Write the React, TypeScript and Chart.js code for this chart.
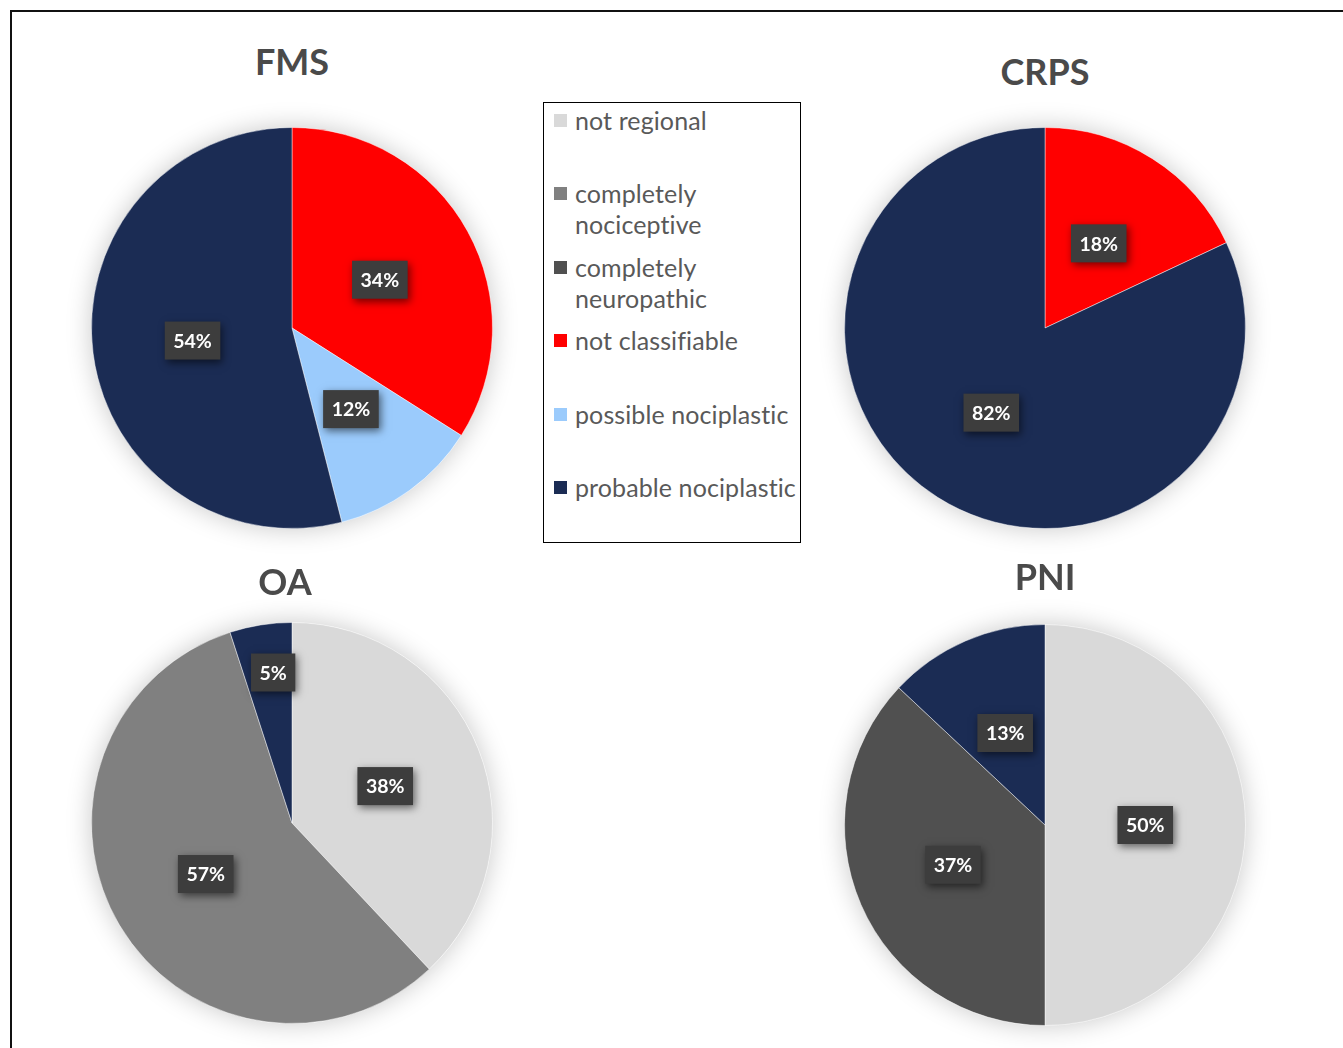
import React, { useEffect, useRef } from "react";
import { Chart, registerables } from "chart.js";

Chart.register(...registerables);

// ---------- data ----------
const categories = [
  "not regional",
  "completely nociceptive",
  "completely neuropathic",
  "not classifiable",
  "possible nociplastic",
  "probable nociplastic",
];
const legendLines = [
  ["not regional"],
  ["completely", "nociceptive"],
  ["completely", "neuropathic"],
  ["not classifiable"],
  ["possible nociplastic"],
  ["probable nociplastic"],
];
const sliceColors = ["#d9d9d9", "#808080", "#505050", "#ff0000", "#9bcbfc", "#1b2c54"];

const chartTitles = ["FMS", "CRPS", "OA", "PNI"];
const fmsValues = [0, 0, 0, 34, 12, 54];
const crpsValues = [0, 0, 0, 18, 0, 82];
const oaValues = [38, 57, 0, 0, 0, 5];
const pniValues = [50, 0, 37, 0, 0, 13];

// ---------- layout ----------
const pieLayouts = [
  { cx: 292, cy: 328, tx: 292, ty: 61 },
  { cx: 1045, cy: 328, tx: 1045, ty: 71 },
  { cx: 292, cy: 823, tx: 285, ty: 581 },
  { cx: 1045, cy: 825, tx: 1045, ty: 576 },
];
const CANVAS = 460;
const PAD = 29;

const glowPlugin = {
  id: "glow",
  beforeDatasetsDraw(chart: any) {
    const meta = chart.getDatasetMeta(0);
    const arc = meta.data.find((a: any) => a);
    if (!arc) return;
    const { x, y, outerRadius } = arc.getProps(["x", "y", "outerRadius"], true);
    const ctx = chart.ctx;
    ctx.save();
    ctx.shadowColor = "rgba(0,0,0,0.22)";
    ctx.shadowBlur = 26;
    ctx.fillStyle = "#ffffff";
    ctx.beginPath();
    ctx.arc(x, y, outerRadius, 0, Math.PI * 2);
    ctx.fill();
    ctx.restore();
  },
};

const labelPlugin = {
  id: "boxLabels",
  afterDatasetsDraw(chart: any) {
    const ctx = chart.ctx;
    const ds = chart.data.datasets[0];
    const meta = chart.getDatasetMeta(0);
    meta.data.forEach((arc: any, i: number) => {
      const v = ds.data[i];
      if (!v) return;
      const { x, y, startAngle, endAngle, outerRadius } = arc.getProps(
        ["x", "y", "startAngle", "endAngle", "outerRadius"],
        true
      );
      const text = v + "%";
      ctx.save();
      ctx.font = "bold 19.5px Lato";
      const tw = ctx.measureText(text).width;
      const bw = tw + 17;
      const bh = 38;
      const mid = (startAngle + endAngle) / 2;
      let rr = outerRadius / 2;
      let shift = 0;
      if ((endAngle - startAngle) * rr < bw) {
        rr = outerRadius * 0.76;
        shift = 5;
      }
      const px = x + Math.cos(mid) * rr + shift;
      const py = y + Math.sin(mid) * rr;
      ctx.shadowColor = "rgba(0,0,0,0.55)";
      ctx.shadowBlur = 8;
      ctx.shadowOffsetX = 2;
      ctx.shadowOffsetY = 3;
      ctx.fillStyle = "#3d3d3d";
      ctx.fillRect(px - bw / 2, py - bh / 2, bw, bh);
      ctx.shadowColor = "transparent";
      ctx.fillStyle = "#ffffff";
      ctx.textAlign = "center";
      ctx.textBaseline = "middle";
      ctx.fillText(text, px, py + 1);
      ctx.restore();
    });
  },
};

function Pie({ values, title, layout }: { values: number[]; title: string; layout: any }) {
  const ref = useRef<HTMLCanvasElement | null>(null);
  useEffect(() => {
    if (!ref.current) return;
    const chart = new Chart(ref.current, {
      type: "pie",
      data: {
        labels: categories,
        datasets: [
          {
            data: values,
            backgroundColor: sliceColors,
            borderColor: "rgba(255,255,255,0.45)",
            borderWidth: 1,
          },
        ],
      },
      options: {
        responsive: false,
        animation: false,
        devicePixelRatio: 1,
        layout: { padding: PAD },
        plugins: { legend: { display: false }, tooltip: { enabled: false }, title: { display: false } },
      },
      plugins: [glowPlugin, labelPlugin],
    });
    return () => chart.destroy();
  }, [values]);
  return (
    <>
      <canvas
        ref={ref}
        width={CANVAS}
        height={CANVAS}
        style={{
          position: "absolute",
          left: layout.cx - CANVAS / 2,
          top: layout.cy - CANVAS / 2,
          width: CANVAS,
          height: CANVAS,
        }}
      />
      <div
        style={{
          position: "absolute",
          left: layout.tx,
          top: layout.ty,
          transform: "translate(-50%, -50%)",
          font: "bold 36px Lato",
          lineHeight: "36px",
          color: "#4a4a4a",
          whiteSpace: "nowrap",
        }}
      >
        {title}
      </div>
    </>
  );
}

export default function App() {
  const allValues = [fmsValues, crpsValues, oaValues, pniValues];
  return (
    <div
      style={{
        position: "fixed",
        left: 0,
        top: 0,
        width: 1343,
        height: 1048,
        overflow: "hidden",
        background: "#ffffff",
      }}
    >
      <div
        style={{
          position: "absolute",
          left: 10,
          top: 10,
          width: 1420,
          height: 1120,
          border: "2px solid #111",
          boxSizing: "border-box",
        }}
      />
      {allValues.map((v, i) => (
        <Pie key={chartTitles[i]} values={v} title={chartTitles[i]} layout={pieLayouts[i]} />
      ))}
      <div
        style={{
          position: "absolute",
          left: 543,
          top: 102,
          width: 258,
          height: 441,
          border: "1.5px solid #000",
          boxSizing: "border-box",
          paddingTop: 2,
          background: "#fff",
        }}
      >
        {categories.map((c, i) => (
          <div key={c} style={{ height: 73.4, position: "relative" }}>
            <div
              style={{
                position: "absolute",
                left: 10,
                top: 9,
                width: 13,
                height: 13,
                background: sliceColors[i],
              }}
            />
            <div
              style={{
                position: "absolute",
                left: 31,
                top: 0,
                font: "25px Lato",
                letterSpacing: "0.1px",
                lineHeight: "31px",
                color: "#595959",
                whiteSpace: "nowrap",
              }}
            >
              {legendLines[i].map((l, j) => (
                <div key={j}>{l}</div>
              ))}
            </div>
          </div>
        ))}
      </div>
    </div>
  );
}
